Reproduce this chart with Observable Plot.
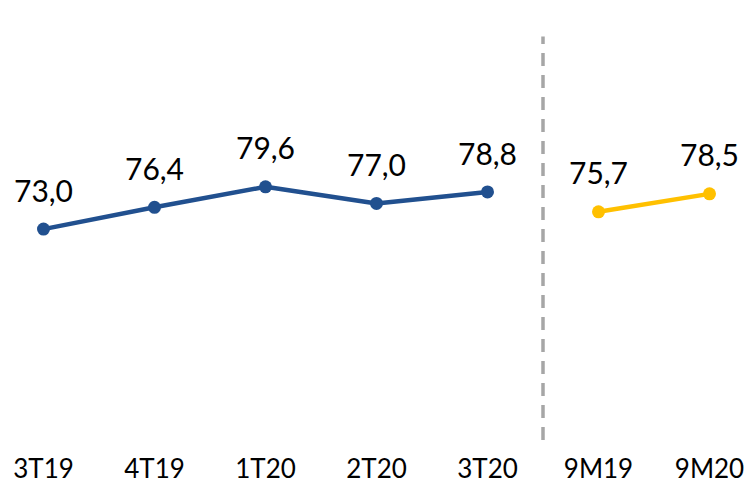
<!DOCTYPE html>
<html>
<head>
<meta charset="utf-8">
<script src="https://cdn.jsdelivr.net/npm/d3@7"></script>
<script src="https://cdn.jsdelivr.net/npm/@observablehq/plot@0.6"></script>
<style>
  html, body { margin: 0; padding: 0; background: #fff; }
  #chart svg { display: block; }
</style>
</head>
<body>
<div id="chart"></div>
<script>
const categories = ["3T19", "4T19", "1T20", "2T20", "3T20", "9M19", "9M20"];
const quarterCats = ["3T19", "4T19", "1T20", "2T20", "3T20"];
const quarterValues = [73.0, 76.4, 79.6, 77.0, 78.8];
const ytdCats = ["9M19", "9M20"];
const ytdValues = [75.7, 78.5];
const dividerAfter = "3T20";
const dividerExtent = [40, 103];

const quarters = quarterCats.map((c, i) => ({cat: c, value: quarterValues[i]}));
const ytd = ytdCats.map((c, i) => ({cat: c, value: ytdValues[i]}));

const W = 751, H = 487, mL = 43, mR = 42;
const step = (W - mL - mR) / (categories.length - 1);
const fmt = v => v.toFixed(1).replace(".", ",");
const font = "Lato, 'Open Sans', sans-serif";

const chart = Plot.plot({
  width: W,
  height: H,
  marginLeft: mL,
  marginRight: mR,
  marginTop: 30,
  marginBottom: 47,
  style: {fontFamily: font, background: "#fff"},
  x: {type: "point", domain: categories, padding: 0, label: null},
  y: {domain: [40, 104], axis: null},
  marks: [
    Plot.axisX({tickSize: 0, tickPadding: 19, fontSize: 26, fill: "#000", label: null}),
    Plot.ruleX([dividerAfter], {x: d => d, y1: dividerExtent[0], y2: dividerExtent[1], dx: step / 2,
      stroke: "#a6a6a6", strokeWidth: 3.5, strokeDasharray: "13,9"}),
    Plot.line(quarters, {x: "cat", y: "value", stroke: "#21508f", strokeWidth: 4.5}),
    Plot.dot(quarters, {x: "cat", y: "value", r: 6.5, fill: "#21508f"}),
    Plot.text(quarters, {x: "cat", y: "value", text: d => fmt(d.value), dy: -37, fontSize: 30, fill: "#000"}),
    Plot.line(ytd, {x: "cat", y: "value", stroke: "#ffc000", strokeWidth: 4.5}),
    Plot.dot(ytd, {x: "cat", y: "value", r: 6.5, fill: "#ffc000"}),
    Plot.text(ytd, {x: "cat", y: "value", text: d => fmt(d.value), dy: -37, fontSize: 30, fill: "#000"})
  ]
});
document.getElementById("chart").appendChild(chart);
</script>
</body>
</html>
